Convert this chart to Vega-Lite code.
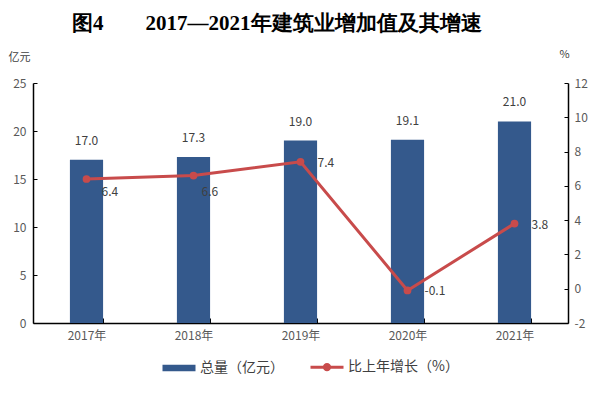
{
  "$schema": "https://vega.github.io/schema/vega-lite/v6.json",
  "width": 535,
  "height": 240,
  "autosize": "none",
  "padding": {"left": 33, "top": 83, "right": 45, "bottom": 70},
  "background": "white",
  "title": {
    "text": "图4　　2017—2021年建筑业增加值及其增速",
    "anchor": "start",
    "frame": "group",
    "dx": 39,
    "offset": 14,
    "font": "Liberation Serif",
    "fontSize": 21,
    "fontWeight": "bold",
    "color": "#000000"
  },
  "config": {
    "locale": {
      "number": {"decimal": ".", "thousands": ",", "grouping": [3], "currency": ["", ""], "minus": "-"}
    },
    "view": {"stroke": null},
    "font": "Noto Sans CJK SC",
    "axis": {
      "labelFont": "Noto Sans CJK SC",
      "labelFontSize": 12,
      "labelColor": "#595959",
      "labelOverlap": false,
      "domainColor": "#000000",
      "tickColor": "#000000",
      "grid": false,
      "titleFont": "Noto Sans CJK SC",
      "titleFontSize": 11,
      "titleFontWeight": "normal",
      "titleColor": "#404040"
    }
  },
  "data": {
    "values": [
      {"year": "2017年", "total": 17.0, "growth": 6.4},
      {"year": "2018年", "total": 17.3, "growth": 6.6},
      {"year": "2019年", "total": 19.0, "growth": 7.4},
      {"year": "2020年", "total": 19.1, "growth": -0.1},
      {"year": "2021年", "total": 21.0, "growth": 3.8}
    ]
  },
  "encoding": {
    "x": {
      "field": "year",
      "type": "nominal",
      "sort": null,
      "scale": {"paddingInner": 0.69, "paddingOuter": 0.345, "align": 0.5},
      "axis": {
        "title": null,
        "labelAngle": 0,
        "tickBand": "extent",
        "tickSize": -5,
        "labelPadding": 12,
        "domainWidth": 1.5
      }
    }
  },
  "layer": [
    {
      "encoding": {
        "y": {
          "field": "total",
          "type": "quantitative",
          "scale": {"domain": [0, 25], "nice": false},
          "axis": {
            "title": "亿元",
            "titleAngle": 0,
            "titleX": -25,
            "titleY": -26,
            "titleAlign": "left",
            "titleBaseline": "middle",
            "values": [0, 5, 10, 15, 20, 25],
            "labelOverlap": false,
            "tickSize": -4,
            "labelPadding": 11,
            "domainWidth": 1.5
          }
        }
      },
      "layer": [
        {
          "mark": {"type": "bar"},
          "encoding": {
            "color": {
              "datum": "总量（亿元）",
              "scale": {
                "domain": ["总量（亿元）", "比上年增长（%）"],
                "range": ["#34598C", "#C84B4B"]
              },
              "legend": {
                "title": null,
                "orient": "none",
                "legendX": 139,
                "legendY": 277,
                "direction": "horizontal",
                "symbolSize": 1089,
                "labelFont": "Noto Sans CJK SC",
                "labelFontSize": 14,
                "labelColor": "#404040",
                "labelOffset": 14,
                "columnPadding": 20,
                "encode": {
                  "symbols": {
                    "update": {
                      "shape": {"signal": "datum.value === '总量（亿元）' ? 'M-1,-0.2H1V0.2H-1Z' : 'M-1,0H1M-0.16,0A0.16,0.16 0 1,0 0.16,0A0.16,0.16 0 1,0 -0.16,0Z'"},
                      "size": {"value": 1089},
                      "fill": {"signal": "datum.value === '总量（亿元）' ? '#34598C' : '#D93A3A'"},
                      "stroke": {"signal": "datum.value === '总量（亿元）' ? 'transparent' : '#C84B4B'"},
                      "strokeWidth": {"signal": "datum.value === '总量（亿元）' ? 0 : 3"},
                      "opacity": {"value": 1},
                      "fillOpacity": {"value": 1},
                      "strokeOpacity": {"value": 1}
                    }
                  }
                }
              }
            }
          }
        },
        {
          "mark": {"type": "text", "baseline": "bottom", "dy": -12, "fontSize": 12, "color": "#404040", "font": "Noto Sans CJK SC"},
          "encoding": {
            "text": {"field": "total", "type": "quantitative", "format": ".1f"}
          }
        }
      ]
    },
    {
      "encoding": {
        "y": {
          "field": "growth",
          "type": "quantitative",
          "scale": {"domain": [-2, 12], "nice": false},
          "axis": {
            "orient": "right",
            "title": "%",
            "titleAngle": 0,
            "titleX": -4,
            "titleY": -29,
            "titleAlign": "center",
            "titleBaseline": "middle",
            "values": [-2, 0, 2, 4, 6, 8, 10, 12],
            "tickCount": 8,
            "labelOverlap": false,
            "labelBound": false,
            "tickSize": -4,
            "labelPadding": 10,
            "domainWidth": 1.5
          }
        }
      },
      "layer": [
        {
          "mark": {
            "type": "line",
            "strokeWidth": 3,
            "point": {"filled": true, "color": "#D93A3A", "size": 60, "opacity": 1}
          },
          "encoding": {
            "color": {"datum": "比上年增长（%）"}
          }
        },
        {
          "transform": [{"filter": "datum.year === '2017年'"}],
          "mark": {"type": "text", "align": "left", "baseline": "middle", "dx": 15, "dy": 13, "fontSize": 12, "color": "#404040", "font": "Noto Sans CJK SC"},
          "encoding": {
            "text": {"field": "growth", "type": "quantitative", "format": ".1f"}
          }
        },
        {
          "transform": [{"filter": "datum.year === '2018年'"}],
          "mark": {"type": "text", "align": "left", "baseline": "middle", "dx": 8, "dy": 16, "fontSize": 12, "color": "#404040", "font": "Noto Sans CJK SC"},
          "encoding": {
            "text": {"field": "growth", "type": "quantitative", "format": ".1f"}
          }
        },
        {
          "transform": [{"filter": "datum.year !== '2017年' && datum.year !== '2018年'"}],
          "mark": {"type": "text", "align": "left", "baseline": "middle", "dx": 17, "dy": 1, "fontSize": 12, "color": "#404040", "font": "Noto Sans CJK SC"},
          "encoding": {
            "text": {"field": "growth", "type": "quantitative", "format": ".1f"}
          }
        }
      ]
    }
  ],
  "resolve": {"scale": {"y": "independent"}}
}
